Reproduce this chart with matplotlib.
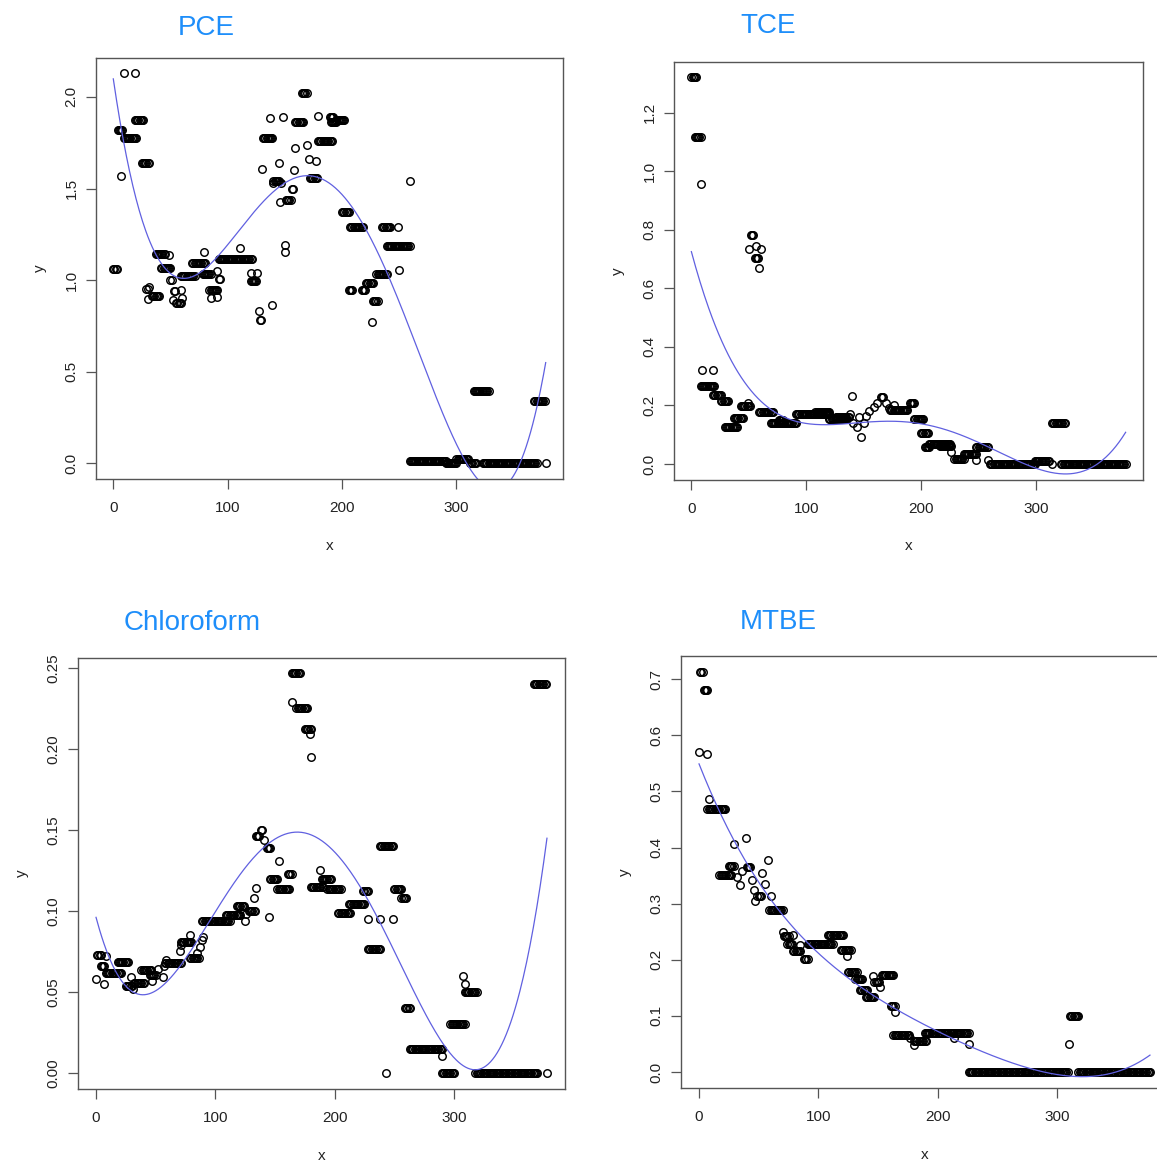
import numpy as np
import matplotlib
matplotlib.use("Agg")
import matplotlib.pyplot as plt

plt.rcParams['font.family'] = ['Liberation Sans', 'DejaVu Sans']

# ---------------- data: runs of (x_start, x_end, y) ----------------
PCE_RUNS = [
    (0, 3, 1.06), (4, 8, 1.82), (7, 7, 1.57), (9, 9, 2.13), (19, 19, 2.13),
    (9, 20, 1.775), (19, 26, 1.876), (25, 31, 1.642), (29, 30, 0.951), (31, 31, 0.96),
    (30, 30, 0.896), (34, 40, 0.915), (37, 45, 1.145), (49, 49, 1.14), (42, 50, 1.064),
    (50, 51, 1.0), (53, 54, 0.94), (52, 52, 0.89), (55, 59, 0.873), (59, 59, 0.945),
    (60, 60, 0.90), (59, 71, 1.024), (69, 80, 1.091), (79, 79, 1.151), (78, 85, 1.036),
    (84, 91, 0.945), (85, 85, 0.90), (91, 91, 0.91), (91, 91, 1.05), (92, 93, 1.005),
    (92, 121, 1.115), (111, 111, 1.175), (120, 120, 1.04), (126, 126, 1.04), (120, 125, 0.996),
    (127, 127, 0.829), (128, 129, 0.782), (139, 139, 0.865), (130, 130, 1.605), (131, 139, 1.775),
    (137, 137, 1.885), (148, 148, 1.89), (140, 145, 1.542), (140, 140, 1.53), (145, 145, 1.642),
    (146, 146, 1.427), (147, 147, 1.53), (150, 150, 1.193), (150, 150, 1.155), (151, 155, 1.438),
    (156, 157, 1.50), (158, 158, 1.602), (159, 159, 1.724), (159, 166, 1.864), (165, 169, 2.024),
    (169, 169, 1.736), (171, 171, 1.66), (172, 178, 1.556), (177, 177, 1.65), (179, 179, 1.895),
    (179, 191, 1.76), (189, 192, 1.89), (190, 195, 1.864), (195, 202, 1.875), (200, 206, 1.373),
    (206, 209, 0.947), (207, 218, 1.291), (217, 220, 0.947), (221, 227, 0.987), (226, 226, 0.769),
    (227, 231, 0.887), (230, 239, 1.033), (235, 242, 1.291), (239, 259, 1.187), (249, 249, 1.291),
    (250, 250, 1.055), (259, 259, 1.542), (259, 291, 0.011), (291, 300, 0.0), (300, 310, 0.024),
    (312, 317, 0.0), (315, 328, 0.396), (323, 370, 0.0), (368, 377, 0.338), (378, 378, 0.0),
]

TCE_RUNS = [
    (0, 4, 1.32), (3, 8, 1.115), (8, 8, 0.956), (9, 9, 0.321), (19, 19, 0.321),
    (8, 20, 0.268), (19, 26, 0.236), (26, 32, 0.216), (29, 40, 0.128), (37, 45, 0.156),
    (43, 51, 0.199), (49, 49, 0.21), (52, 54, 0.782), (50, 50, 0.733), (56, 56, 0.745),
    (61, 61, 0.733), (55, 58, 0.705), (59, 59, 0.668), (59, 71, 0.179), (69, 91, 0.139),
    (76, 80, 0.15), (91, 120, 0.171), (108, 120, 0.179), (120, 135, 0.153), (126, 137, 0.16),
    (140, 140, 0.232), (138, 138, 0.17), (141, 141, 0.14), (144, 144, 0.128), (148, 148, 0.091),
    (146, 146, 0.16), (150, 150, 0.14), (152, 152, 0.165), (155, 155, 0.18), (159, 159, 0.195),
    (162, 162, 0.21), (165, 167, 0.23), (169, 169, 0.21), (172, 172, 0.19), (176, 176, 0.2),
    (173, 188, 0.184), (190, 194, 0.207), (194, 202, 0.154), (200, 206, 0.105), (203, 207, 0.057),
    (207, 225, 0.068), (216, 226, 0.06), (226, 226, 0.042), (229, 237, 0.016), (237, 248, 0.034),
    (248, 248, 0.015), (248, 258, 0.057), (258, 258, 0.015), (260, 299, 0.0), (299, 311, 0.011),
    (314, 314, 0.0), (314, 325, 0.139), (322, 378, 0.0),
]

CHL_RUNS = [
    (0, 0, 0.058), (1, 4, 0.073), (4, 7, 0.066), (7, 7, 0.055), (8, 8, 0.072),
    (8, 21, 0.0616), (18, 27, 0.0688), (25, 30, 0.0538), (29, 29, 0.059), (31, 31, 0.052),
    (32, 40, 0.0555), (38, 46, 0.0637), (47, 47, 0.057), (45, 50, 0.0606), (52, 52, 0.064),
    (56, 56, 0.059), (57, 57, 0.066), (59, 59, 0.070), (58, 71, 0.068), (70, 70, 0.075),
    (71, 71, 0.079), (71, 80, 0.081), (79, 79, 0.085), (79, 86, 0.071), (85, 85, 0.074),
    (87, 87, 0.078), (89, 89, 0.082), (90, 90, 0.084), (89, 112, 0.0935), (109, 121, 0.0976),
    (118, 124, 0.103), (125, 125, 0.094), (126, 126, 0.098), (128, 133, 0.100), (132, 132, 0.108),
    (134, 134, 0.114), (134, 137, 0.146), (138, 139, 0.150), (141, 141, 0.144), (143, 146, 0.139),
    (145, 145, 0.096), (153, 153, 0.131), (146, 152, 0.120), (152, 162, 0.1136), (161, 164, 0.1226),
    (164, 164, 0.229), (164, 171, 0.2465), (168, 177, 0.225), (175, 180, 0.212), (179, 179, 0.209),
    (180, 180, 0.195), (180, 190, 0.1146), (188, 188, 0.125), (189, 197, 0.120), (194, 205, 0.1136),
    (203, 213, 0.099), (212, 225, 0.104), (224, 228, 0.112), (228, 228, 0.095), (228, 238, 0.0764),
    (238, 238, 0.095), (243, 243, 0.0), (238, 249, 0.140), (249, 249, 0.095), (250, 256, 0.1134),
    (256, 260, 0.108), (259, 263, 0.040), (263, 290, 0.015), (290, 290, 0.0103), (290, 300, 0.0),
    (297, 309, 0.030), (308, 308, 0.060), (309, 309, 0.055), (309, 319, 0.050), (318, 370, 0.0),
    (367, 377, 0.240), (378, 378, 0.0),
]

MTBE_RUNS = [
    (0, 0, 0.570), (1, 3, 0.713), (4, 7, 0.681), (7, 7, 0.567), (8, 8, 0.486),
    (7, 22, 0.469), (29, 29, 0.406), (39, 39, 0.417), (17, 27, 0.352), (25, 29, 0.368),
    (32, 32, 0.348), (34, 34, 0.333), (36, 36, 0.358), (40, 43, 0.365), (44, 44, 0.343),
    (46, 46, 0.324), (47, 47, 0.305), (49, 52, 0.314), (53, 53, 0.355), (55, 55, 0.336),
    (58, 58, 0.378), (60, 60, 0.313), (59, 70, 0.289), (70, 70, 0.250), (71, 75, 0.243),
    (74, 78, 0.228), (79, 79, 0.244), (79, 85, 0.216), (85, 85, 0.226), (88, 91, 0.201),
    (91, 112, 0.228), (108, 121, 0.245), (119, 127, 0.218), (124, 124, 0.206), (125, 132, 0.178),
    (131, 137, 0.165), (135, 141, 0.146), (140, 147, 0.133), (146, 146, 0.172), (147, 151, 0.160),
    (152, 152, 0.151), (153, 163, 0.173), (161, 164, 0.117), (164, 164, 0.107), (163, 176, 0.066),
    (177, 177, 0.060), (180, 180, 0.049), (180, 190, 0.056), (189, 226, 0.069), (214, 214, 0.060),
    (226, 226, 0.050), (226, 309, 0.0), (310, 310, 0.050), (311, 318, 0.100), (318, 378, 0.0),
]

TITLES = ["PCE", "TCE", "Chloroform", "MTBE"]
Y_TICKS = [
    [0.0, 0.5, 1.0, 1.5, 2.0],
    [0.0, 0.2, 0.4, 0.6, 0.8, 1.0, 1.2],
    [0.00, 0.05, 0.10, 0.15, 0.20, 0.25],
    [0.0, 0.1, 0.2, 0.3, 0.4, 0.5, 0.6, 0.7],
]
Y_FMT = ["{:.1f}", "{:.1f}", "{:.2f}", "{:.1f}"]
X_TICKS = [0, 100, 200, 300]
FIT_DEGREE = 4

ALL_RUNS = [PCE_RUNS, TCE_RUNS, CHL_RUNS, MTBE_RUNS]


def expand(runs):
    xs, ys = [], []
    for x0, x1, y in runs:
        pts = np.arange(x0, x1 + 1)
        xs.append(pts)
        ys.append(np.full(len(pts), y))
    return np.concatenate(xs).astype(float), np.concatenate(ys)


W, H = 1157, 1164
fig = plt.figure(figsize=(W / 100, H / 100), dpi=100)

# axes boxes in pixels: left, top, right, bottom
BOXES = [
    (96, 57.5, 563, 479),
    (674, 62, 1143, 479.5),
    (78, 657.5, 565, 1089),
    (681, 656, 1168, 1088),
]
TITLE_POS = [(206, 28), (768, 26), (192, 623), (778, 622)]

BLUE_TITLE = '#1E8EFA'
FIT_COLOR = '#6060e0'
BOX_COLOR = '#555555'

for i, runs in enumerate(ALL_RUNS):
    l, t, r, b = BOXES[i]
    ax = fig.add_axes([l / W, 1 - b / H, (r - l) / W, (b - t) / H])
    x, y = expand(runs)
    ax.plot(x, y, linestyle='none', marker='o', markersize=5.4,
            markerfacecolor='none', markeredgecolor='black', markeredgewidth=1.05)
    coef = np.polyfit(x, y, FIT_DEGREE)
    xf = np.linspace(x.min(), x.max(), 400)
    ax.plot(xf, np.polyval(coef, xf), color=FIT_COLOR, linewidth=0.9)

    xr = x.max() - x.min()
    ax.set_xlim(x.min() - 0.04 * xr, x.max() + 0.04 * xr)
    yr = y.max() - y.min()
    ax.set_ylim(y.min() - 0.04 * yr, y.max() + 0.04 * yr)

    ax.set_xticks(X_TICKS)
    ax.set_xticklabels([str(v) for v in X_TICKS])
    ax.set_yticks(Y_TICKS[i])
    ax.set_yticklabels([Y_FMT[i].format(v) for v in Y_TICKS[i]], rotation=90, va='center')
    ax.tick_params(direction='out', length=7, width=0.9, color=BOX_COLOR,
                   labelsize=11, labelcolor='#222222')
    ax.tick_params(axis='x', pad=9)
    ax.tick_params(axis='y', pad=5.5)
    for s in ax.spines.values():
        s.set_color(BOX_COLOR)
        s.set_linewidth(1.0)
    ax.set_xlabel('x', fontsize=11, color='#222222', labelpad=17)
    ax.set_ylabel('y', fontsize=11, color='#222222', labelpad=12.5)

    tx, ty = TITLE_POS[i]
    fig.text(tx / W, 1 - ty / H, TITLES[i], color=BLUE_TITLE, fontsize=20,
             ha='center', va='center')

fig.savefig('out.png', dpi=100)
